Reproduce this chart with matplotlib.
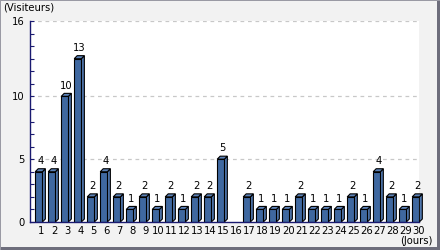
import matplotlib
matplotlib.use("Agg")
from matplotlib import pyplot as plt
from matplotlib.patches import Polygon, Rectangle
from matplotlib.ticker import MultipleLocator

days = list(range(1, 31))
visits = [4, 4, 10, 13, 2, 4, 2, 1, 2, 1, 2, 1, 2, 2, 5, 0, 2, 1, 1, 1, 2, 1, 1, 1, 2, 1, 4, 2, 1, 2]
y_ticks = [0, 5, 10, 16]

front = '#3f68a0'
top_c = '#5c82b8'
side_c = '#5077ae'
navy = '#1a1a70'

plt.rcParams['font.family'] = ['DejaVu Sans']
fig = plt.figure(figsize=(4.4, 2.5), dpi=100, facecolor='#f2f2f2')
ax = fig.add_axes([30 / 440, 28 / 250, 389 / 440, 201 / 250])
ax.set_facecolor('white')

bw = 0.55
dx, dy = 0.23, 0.24
ax.set_xlim(0.323, 30.25)
ax.set_ylim(0, 16)

for d, v in zip(days, visits):
    if v == 0:
        continue
    x0, x1 = d - bw / 2, d + bw / 2
    ax.add_patch(Polygon([(x1, 0), (x1 + dx, dy), (x1 + dx, v + dy), (x1, v)],
                         closed=True, facecolor=side_c, edgecolor='black', lw=0.8, zorder=3, clip_on=False))
    ax.add_patch(Polygon([(x0, v), (x1, v), (x1 + dx, v + dy), (x0 + dx, v + dy)],
                         closed=True, facecolor=top_c, edgecolor='black', lw=0.8, zorder=3, clip_on=False))
ax.bar([d for d, v in zip(days, visits) if v > 0], [v for v in visits if v > 0], width=bw,
       color=front, edgecolor='black', lw=0.8, zorder=4)

for d, v in zip(days, visits):
    if v == 0:
        continue
    ax.annotate(f'{v}', (d + dx / 2, v + dy), xytext=(0, 2), textcoords='offset points',
                ha='center', va='bottom', fontsize=7.2, color='black', zorder=5)

for t in y_ticks[1:]:
    ax.axhline(t, color='#c8c8c8', lw=0.9, ls=(0, (3, 3)), zorder=1)

for s in ['top', 'right']:
    ax.spines[s].set_visible(False)
for s in ['left', 'bottom']:
    ax.spines[s].set_color(navy)
    ax.spines[s].set_linewidth(1)
    ax.spines[s].set_zorder(6)

ax.set_yticks(y_ticks)
ax.set_yticklabels([str(t) for t in y_ticks], fontsize=7.2)
ax.yaxis.set_minor_locator(MultipleLocator(1))
ax.tick_params(axis='y', which='both', direction='in', color=navy, length=3, width=0.8, pad=4)
ax.set_xticks([d + 0.2 for d in days])
ax.set_xticklabels([str(d) for d in days], fontsize=7.2)
ax.tick_params(axis='x', length=0, pad=3)

fig.text(3 / 440, 1 - 8 / 250, '(Visiteurs)', fontsize=7.2, ha='left', va='center')
fig.text(432 / 440, 1 - 241 / 250, '(Jours)', fontsize=7.2, ha='right', va='center')

# frame with shadow on right and bottom
fig.patches.append(Rectangle((437 / 440, 0), 3 / 440, 1, transform=fig.transFigure,
                             facecolor='#6e6e7c', edgecolor='none'))
fig.patches.append(Rectangle((0, 0), 1, 3 / 250, transform=fig.transFigure,
                             facecolor='#6e6e7c', edgecolor='none'))
fig.patches.append(Rectangle((0, 1 - 1 / 250), 1, 1 / 250, transform=fig.transFigure,
                             facecolor='#9a9aa4', edgecolor='none'))
fig.patches.append(Rectangle((0, 0), 1 / 440, 1, transform=fig.transFigure,
                             facecolor='#9a9aa4', edgecolor='none'))

fig.savefig('out.png', dpi=100, facecolor=fig.get_facecolor())
